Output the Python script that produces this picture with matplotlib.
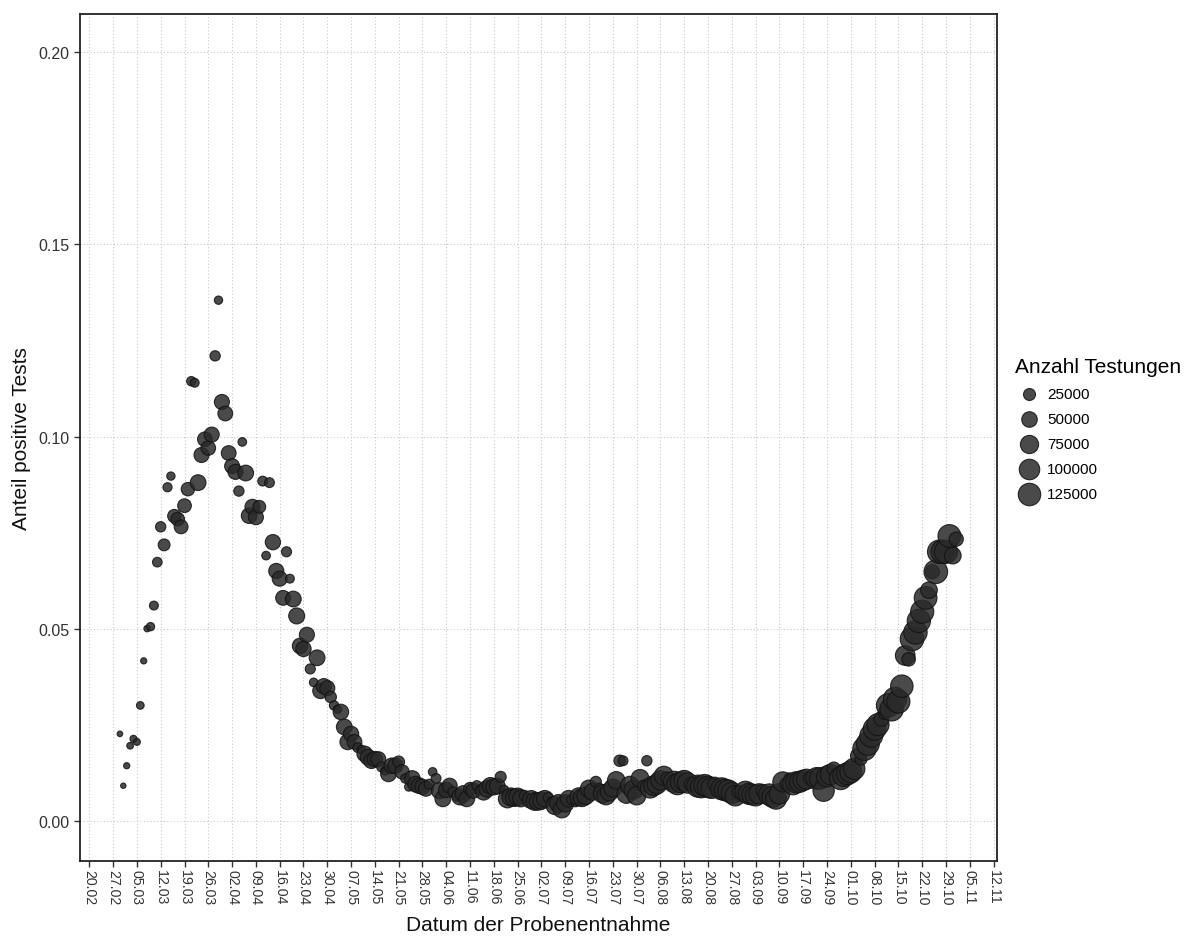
import matplotlib
matplotlib.use("Agg")
import matplotlib.pyplot as plt
import matplotlib.dates as mdates
import numpy as np
import pandas as pd

plt.rcParams['font.family'] = ['Liberation Sans', 'DejaVu Sans']

# Anteil positiver Tests je Tag (ab 29.02.2020), wochenweise Mo-So
anteil = [0.0226, 0.0091,
          0.0143, 0.0195, 0.0213, 0.0205, 0.0300, 0.0416, 0.0500,   # 02.03
          0.0505, 0.0560, 0.0673, 0.0765, 0.0718, 0.0868, 0.0897,   # 09.03
          0.0793, 0.0785, 0.0765, 0.0820, 0.0863, 0.1144, 0.1140,   # 16.03
          0.0880, 0.0952, 0.0993, 0.0970, 0.1005, 0.1210, 0.1355,   # 23.03
          0.1090, 0.1060, 0.0957, 0.0923, 0.0908, 0.0858, 0.0986,   # 30.03
          0.0905, 0.0794, 0.0817, 0.0790, 0.0817, 0.0884, 0.0690,   # 06.04
          0.0880, 0.0725, 0.0650, 0.0630, 0.0580, 0.0700, 0.0630,   # 13.04
          0.0577, 0.0533, 0.0455, 0.0447, 0.0484, 0.0395, 0.0360,   # 20.04
          0.0424, 0.0338, 0.0350, 0.0345, 0.0322, 0.0300, 0.0290,   # 27.04
          0.0283, 0.0244, 0.0205, 0.0226, 0.0205, 0.0190, 0.0185,   # 04.05
          0.0174, 0.0165, 0.0156, 0.0160, 0.0160, 0.0140, 0.0130,   # 11.05
          0.0122, 0.0143, 0.0143, 0.0153, 0.0127, 0.0110, 0.0088,   # 18.05
          0.0110, 0.0095, 0.0091, 0.0088, 0.0083, 0.0095, 0.0127,   # 25.05
          0.0110, 0.0078, 0.0057, 0.0080, 0.0091, 0.0075, 0.0062,   # 01.06
          0.0062, 0.0070, 0.0057, 0.0083, 0.0078, 0.0091, 0.0080,   # 08.06
          0.0075, 0.0083, 0.0091, 0.0088, 0.0090, 0.0114, 0.0080,   # 15.06
          0.0057, 0.0062, 0.0060, 0.0062, 0.0058, 0.0065, 0.0057,   # 22.06
          0.0055, 0.0050, 0.0050, 0.0052, 0.0057, 0.0060, 0.0050,   # 29.06
          0.0039, 0.0045, 0.0030, 0.0045, 0.0057, 0.0055, 0.0048,   # 06.07
          0.0062, 0.0060, 0.0065, 0.0083, 0.0075, 0.0101, 0.0085,   # 13.07
          0.0070, 0.0065, 0.0075, 0.0085, 0.0105, 0.0156, 0.0156,   # 20.07
          0.0070, 0.0091, 0.0080, 0.0065, 0.0110, 0.0090, 0.0156,   # 27.07
          0.0085, 0.0091, 0.0095, 0.0105, 0.0117, 0.0110, 0.0095,   # 03.08
          0.0101, 0.0095, 0.0100, 0.0104, 0.0098, 0.0095, 0.0091,   # 10.08
          0.0090, 0.0088, 0.0092, 0.0088, 0.0085, 0.0095, 0.0085,   # 17.08
          0.0083, 0.0080, 0.0078, 0.0072, 0.0065, 0.0075, 0.0070,   # 24.08
          0.0075, 0.0070, 0.0068, 0.0065, 0.0070, 0.0078, 0.0075,   # 31.08
          0.0068, 0.0062, 0.0057, 0.0070, 0.0101, 0.0095, 0.0110,   # 07.09
          0.0095, 0.0100, 0.0101, 0.0105, 0.0108, 0.0110, 0.0105,   # 14.09
          0.0110, 0.0110, 0.0078, 0.0115, 0.0120, 0.0135, 0.0120,   # 21.09
          0.0110, 0.0118, 0.0122, 0.0127, 0.0135, 0.0169, 0.0160,   # 28.09
          0.0187, 0.0200, 0.0221, 0.0239, 0.0250, 0.0265, 0.0280,   # 05.10
          0.0300, 0.0290, 0.0317, 0.0310, 0.0350, 0.0430, 0.0420,   # 12.10
          0.0473, 0.0490, 0.0520, 0.0544, 0.0580, 0.0600, 0.0648,   # 19.10
          0.0648, 0.0700, 0.0700, 0.0700, 0.0741, 0.0690, 0.0733]   # 26.10

# Anzahl Testungen je Tag
testungen = [1500, 1200,
             2500, 3500, 4500, 4000, 6000, 2500, 3000,
             8000, 10000, 13000, 16000, 24000, 11000, 8000,
             33000, 35000, 37000, 36000, 34000, 12000, 10000,
             52000, 46000, 43000, 42000, 46000, 16000, 8000,
             46000, 44000, 44000, 45000, 46000, 16000, 9000,
             52000, 50000, 46000, 46000, 30000, 14000, 9000,
             14000, 48000, 47000, 46000, 44000, 15000, 10000,
             52000, 54000, 50000, 48000, 46000, 15000, 9000,
             52000, 50000, 48000, 46000, 22000, 12000, 8000,
             50000, 52000, 50000, 48000, 44000, 14000, 9000,
             50000, 52000, 50000, 49000, 46000, 15000, 9000,
             52000, 50000, 48000, 24000, 40000, 13000, 9000,
             50000, 52000, 50000, 48000, 45000, 14000, 9000,
             14000, 55000, 53000, 50000, 46000, 15000, 10000,
             55000, 56000, 53000, 30000, 45000, 15000, 10000,
             58000, 60000, 58000, 56000, 52000, 20000, 12000,
             75000, 72000, 70000, 68000, 62000, 18000, 12000,
             72000, 70000, 68000, 66000, 60000, 16000, 11000,
             72000, 70000, 68000, 66000, 60000, 17000, 11000,
             74000, 72000, 70000, 68000, 62000, 20000, 13000,
             78000, 76000, 74000, 72000, 68000, 22000, 14000,
             85000, 82000, 80000, 78000, 72000, 24000, 16000,
             95000, 92000, 90000, 88000, 84000, 30000, 20000,
             110000, 108000, 105000, 102000, 98000, 35000, 22000,
             120000, 118000, 115000, 112000, 105000, 38000, 24000,
             118000, 115000, 112000, 108000, 100000, 32000, 20000,
             110000, 108000, 105000, 100000, 95000, 30000, 20000,
             110000, 108000, 105000, 100000, 95000, 30000, 20000,
             110000, 108000, 105000, 100000, 95000, 32000, 20000,
             115000, 112000, 110000, 105000, 100000, 35000, 22000,
             125000, 122000, 120000, 118000, 110000, 40000, 25000,
             135000, 132000, 130000, 128000, 120000, 45000, 30000,
             140000, 138000, 135000, 132000, 125000, 90000, 35000,
             140000, 138000, 136000, 134000, 128000, 60000, 40000,
             140000, 138000, 136000, 134000, 130000, 60000, 40000]

datum = pd.date_range("2020-02-29", periods=len(anteil), freq="D")

legende_werte = [25000, 50000, 75000, 100000, 125000]
y_ticks = [0.00, 0.05, 0.10, 0.15, 0.20]


def punktgroesse(n):
    # Flaeche ~ Anzahl, Durchmesser in Pixel -> Punkte^2
    d_px = 3.5 + 19.0 * np.sqrt(np.asarray(n) / 125000)
    return (d_px * 72 / 100) ** 2


W, H = 1199, 937
fig = plt.figure(figsize=(W / 100, H / 100), dpi=100)
ax = fig.add_axes([80 / W, 1 - 862 / H, (997 - 80) / W, (862 - 15) / H])

ax.scatter(datum, anteil, s=punktgroesse(testungen), c='#2a2a2a', alpha=0.85,
           edgecolors='#121212', linewidths=0.8, zorder=3)

# Achsen
x0 = mdates.date2num(pd.Timestamp("2020-02-20")) - 2.74
x1 = mdates.date2num(pd.Timestamp("2020-11-12")) + 1.0
ax.set_xlim(x0, x1)
ax.set_ylim(-0.0105, 0.21)

wochen = pd.date_range("2020-02-20", "2020-11-12", freq="7D")
ax.set_xticks(wochen)
ax.set_xticklabels([d.strftime("%d.%m") for d in wochen], rotation=-90,
                   ha='center', va='top', fontsize=10.2, color='#333333')
ax.set_yticks(y_ticks)
ax.set_yticklabels([f"{v:.2f}" for v in y_ticks], fontsize=11.5, color='#333333')

ax.tick_params(axis='both', length=4, width=1, color='#333333')
ax.tick_params(axis='x', pad=2)
for sp in ax.spines.values():
    sp.set_linewidth(1.3)
    sp.set_color('#222222')

ax.grid(True, color='#c8c8c8', linestyle=(0, (1, 2)), linewidth=0.8)
ax.set_axisbelow(True)

ax.set_xlabel("Datum der Probenentnahme", fontsize=15, color='#111111')
ax.xaxis.set_label_coords(0.5, -0.064)
ax.set_ylabel("Anteil positive Tests", fontsize=15, color='#111111')
ax.yaxis.set_label_coords(-0.053, 0.5)

# Legende
handles = [ax.scatter([], [], s=punktgroesse(v), c='#2a2a2a', alpha=0.85,
                      edgecolors='#121212', linewidths=0.8) for v in legende_werte]
leg = ax.legend(handles, [str(v) for v in legende_werte], title="Anzahl Testungen",
                loc='upper left', bbox_to_anchor=(1015 / W, 1 - 358 / H),
                bbox_transform=fig.transFigure, frameon=False, fontsize=11,
                title_fontsize=15, alignment='left', scatterpoints=1,
                handlelength=1.8, handletextpad=0.3, labelspacing=0.72,
                borderpad=0, borderaxespad=0)

fig.savefig("out.png", dpi=100, facecolor='white')
